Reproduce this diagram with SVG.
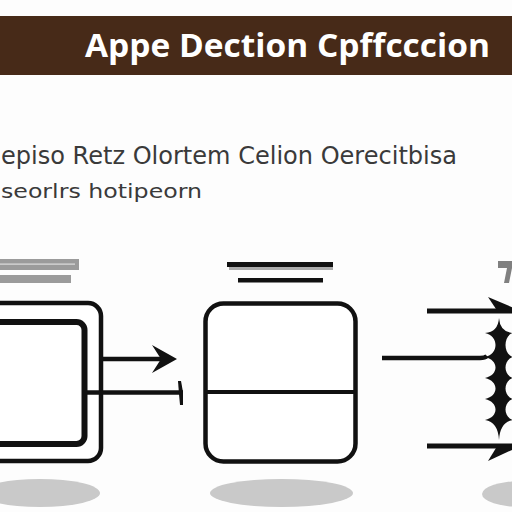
<svg xmlns="http://www.w3.org/2000/svg" width="512" height="512" viewBox="0 0 512 512">
  <style>
    .ln { stroke: #111; fill: none; stroke-linecap: butt; }
    .box { stroke: #111; fill: #fff; }
    .shadow { fill: #c9c9c9; }
    .ink { fill: #111; }
    .gbar { fill: #9b9b9b; }
    .sub { font-family: "DejaVu Sans", "Liberation Sans", sans-serif; fill: #3a3a3a; }
  </style>
  <rect x="0" y="0" width="512" height="512" fill="#fdfdfd"/>

  <g id="header">
    <rect x="0" y="16" width="512" height="59" fill="#472a18"/>
    <text x="85" y="57" font-family="'Open Sans', 'DejaVu Sans', sans-serif" font-weight="bold" font-size="33" fill="#ffffff" textLength="405" lengthAdjust="spacingAndGlyphs">Appe Dection Cpffcccion</text>
  </g>

  <g id="subtitle">
    <text class="sub" x="1" y="164" font-size="25" textLength="456" lengthAdjust="spacingAndGlyphs">episo Retz Olortem Celion Oerecitbisa</text>
    <text class="sub" x="1" y="198" font-size="20" textLength="201" lengthAdjust="spacingAndGlyphs">seorlrs hotipeorn</text>
  </g>

  <g id="node-left">
    <ellipse class="shadow" cx="40" cy="493" rx="60" ry="14"/>
    <rect class="gbar" x="0" y="259" width="79" height="11"/>
    <rect x="0" y="263.5" width="75" height="1.2" fill="#dedede"/>
    <rect class="gbar" x="0" y="275" width="71" height="8"/>
    <rect class="box" x="-30" y="303" width="131" height="158" rx="13" stroke-width="4.5"/>
    <rect class="box" x="-30" y="322" width="114.5" height="122" rx="8" stroke-width="6"/>
  </g>

  <g id="node-middle">
    <ellipse class="shadow" cx="281.5" cy="493" rx="71.5" ry="14"/>
    <rect x="229" y="266" width="104" height="4" fill="#aaaaaa"/>
    <rect class="ink" x="227" y="262" width="106" height="5"/>
    <rect class="ink" x="238" y="278" width="85" height="4.5"/>
    <rect class="box" x="205.5" y="303.5" width="150" height="158" rx="18" stroke-width="4.5"/>
    <line class="ln" x1="205" y1="392" x2="356" y2="392" stroke-width="4"/>
  </g>

  <g id="node-right">
    <ellipse class="shadow" cx="522" cy="494" rx="40" ry="13"/>
    <polygon points="498,261 512,261 512,268 509,283 504,283 507,268 498,268" fill="#808080"/>
    <path class="ink" d="M499,318 Q498,332 485,333 C499,336 499,354 485,357 C499,360 499,375 485,378 C499,381 499,396 485,399 C499,402 499,417 485,420 Q498,422 499,440 Q500,422 513,420 C503,417 503,402 513,399 C503,396 503,381 513,378 C503,375 503,360 513,357 C503,354 503,336 513,333 Q500,332 499,318 Z"/>
  </g>

  <g id="connectors">
    <line class="ln" x1="103" y1="359" x2="168" y2="359" stroke-width="4.5"/>
    <path class="ink" d="M152,345 L177,359 L152,373 L161,359 Z"/>
    <line class="ln" x1="86" y1="392.5" x2="183" y2="392.5" stroke-width="4.5"/>
    <path class="ink" d="M178,381 L181,381 L183,392 L183,405 L180,405 L179,394 Z"/>

    <line class="ln" x1="427" y1="311" x2="512" y2="311" stroke-width="5"/>
    <path class="ink" d="M488,297 L514,308 L514,313 L496,309 Z"/>
    <path class="ln" d="M382,358 L480,358 Q485,358 487,356" stroke-width="4.5"/>
    <line class="ln" x1="427" y1="446" x2="512" y2="446" stroke-width="5"/>
    <path class="ink" d="M488,461 L514,449 L514,444 L496,448 Z"/>
  </g>
</svg>
